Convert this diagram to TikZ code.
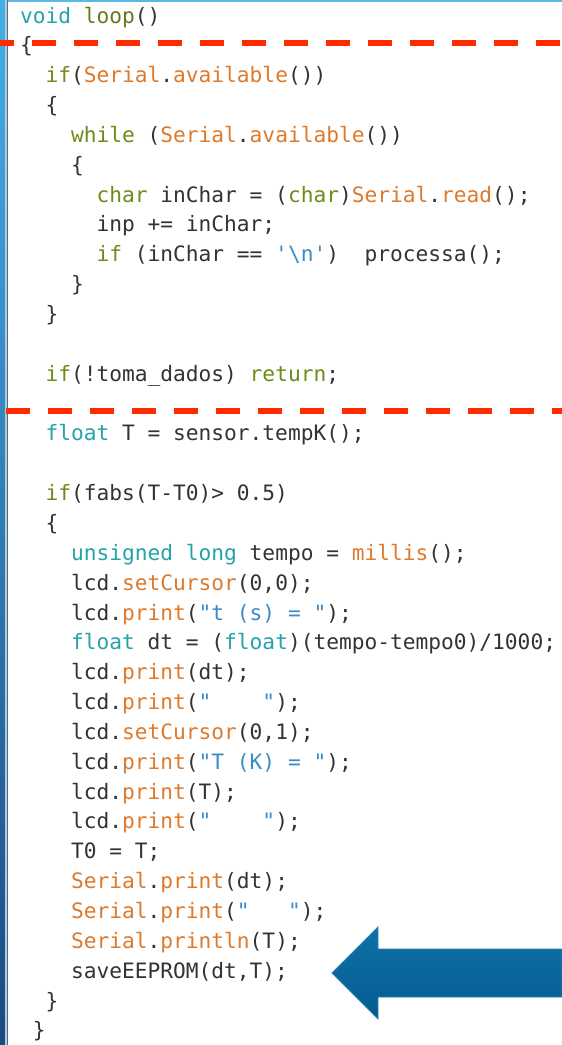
\documentclass[tikz,border=0pt]{standalone}
\usepackage{fontspec}
\setmonofont{DejaVu Sans Mono}
\definecolor{cteal}{HTML}{26A2AA}
\definecolor{colive}{HTML}{6E8C1C}
\definecolor{cloopc}{HTML}{667A1A}
\definecolor{corange}{HTML}{DE7A2C}
\definecolor{cstr}{HTML}{3A8CC6}
\definecolor{ctext}{HTML}{333333}
\definecolor{cdash}{HTML}{FF2A00}
\definecolor{cbartop}{HTML}{45AEE6}
\definecolor{cbarmid}{HTML}{2E86BF}
\definecolor{cbarbot}{HTML}{1D4A80}
\definecolor{ctopline}{HTML}{5BB7E6}
\definecolor{cgrayline}{HTML}{5A6A7E}
\definecolor{cstripe}{HTML}{A8CDE4}
\definecolor{carrtop}{HTML}{0D72A8}
\definecolor{carrmid}{HTML}{036298}
\definecolor{carrbot}{HTML}{055A8E}
\definecolor{carredge}{HTML}{2F84B6}
\newcommand{\cKw}[1]{\textcolor{cteal}{#1}}
\newcommand{\cCt}[1]{\textcolor{colive}{#1}}
\newcommand{\cLp}[1]{\textcolor{cloopc}{#1}}
\newcommand{\cFn}[1]{\textcolor{corange}{#1}}
\newcommand{\cSt}[1]{\textcolor{cstr}{#1}}
\begin{document}
\begin{tikzpicture}[x=1pt,y=-1pt,
  code/.style={anchor=base west, inner sep=0pt, outer sep=0pt,
    font=\ttfamily\fontsize{21.2pt}{30pt}\selectfont, text=ctext},
  reddash/.style={draw=cdash, line width=6pt, dash pattern=on 24pt off 18pt}]
\useasboundingbox (0,0) rectangle (562,1045);
\fill[white] (0,0) rectangle (562,1045);
% frame
\fill[ctopline] (0,0) rectangle (562,1.6);
\shade[top color=cbartop, middle color=cbarmid, bottom color=cbarbot] (0,0) rectangle (5.2,1045);
\fill[cstripe] (5.2,0) rectangle (6.6,1045);
\fill[cgrayline] (6.6,0) rectangle (7.8,1045);
% code lines
\def\cw{12.76}
\def\lh{29.85}
\def\yb{23}
\foreach \i/\lvl/\txt in {
  0/0/{\cKw{void} \cLp{loop}()},
  1/0/{\{},
  2/2/{\cCt{if}(\cFn{Serial}.\cFn{available}())},
  3/2/{\{},
  4/4/{\cCt{while} (\cFn{Serial}.\cFn{available}())},
  5/4/{\{},
  6/6/{\cCt{char} inChar = (\cCt{char})\cFn{Serial}.\cFn{read}();},
  7/6/{inp += inChar;},
  8/6/{\cCt{if} (inChar == \cSt{'\textbackslash n'})\ \ processa();},
  9/4/{\}},
  10/2/{\}},
  12/2/{\cCt{if}(!toma\_dados) \cCt{return};},
  14/2/{\cKw{float} T = sensor.tempK();},
  16/2/{\cCt{if}(fabs(T-T0)> 0.5)},
  17/2/{\{},
  18/4/{\cKw{unsigned} \cKw{long} tempo = \cFn{millis}();},
  19/4/{lcd.\cFn{setCursor}(0,0);},
  20/4/{lcd.\cFn{print}(\cSt{"t (s) = "});},
  21/4/{\cKw{float} dt = (\cKw{float})(tempo-tempo0)/1000;},
  22/4/{lcd.\cFn{print}(dt);},
  23/4/{lcd.\cFn{print}(\cSt{"\ \ \ \ "});},
  24/4/{lcd.\cFn{setCursor}(0,1);},
  25/4/{lcd.\cFn{print}(\cSt{"T (K) = "});},
  26/4/{lcd.\cFn{print}(T);},
  27/4/{lcd.\cFn{print}(\cSt{"\ \ \ \ "});},
  28/4/{T0 = T;},
  29/4/{\cFn{Serial}.\cFn{print}(dt);},
  30/4/{\cFn{Serial}.\cFn{print}(\cSt{"\ \ \ "});},
  31/4/{\cFn{Serial}.\cFn{println}(T);},
  32/4/{saveEEPROM(dt,T);},
  33/2/{\}},
  34/1/{\}}}
{
  \node[code] (l\i) at ({20+\lvl*\cw},{\yb+\i*\lh}) {\txt};
}
% dashed separators
\coordinate (d1a) at (0,43);
\coordinate (d1b) at (562,43);
\coordinate (d2a) at (6,411);
\coordinate (d2b) at (562,411);
\draw[reddash, dash phase=10pt] (d1a) -- (d1b);
\draw[reddash] (d2a) -- (d2b);
% arrow
\shade[top color=carrtop, middle color=carrmid, bottom color=carrbot, draw=carredge, line width=0.8pt]
  (332,973) -- (378,927) -- (378,949) -- (562,949) -- (562,997) -- (378,997) -- (378,1019) -- cycle;
\end{tikzpicture}
\end{document}
